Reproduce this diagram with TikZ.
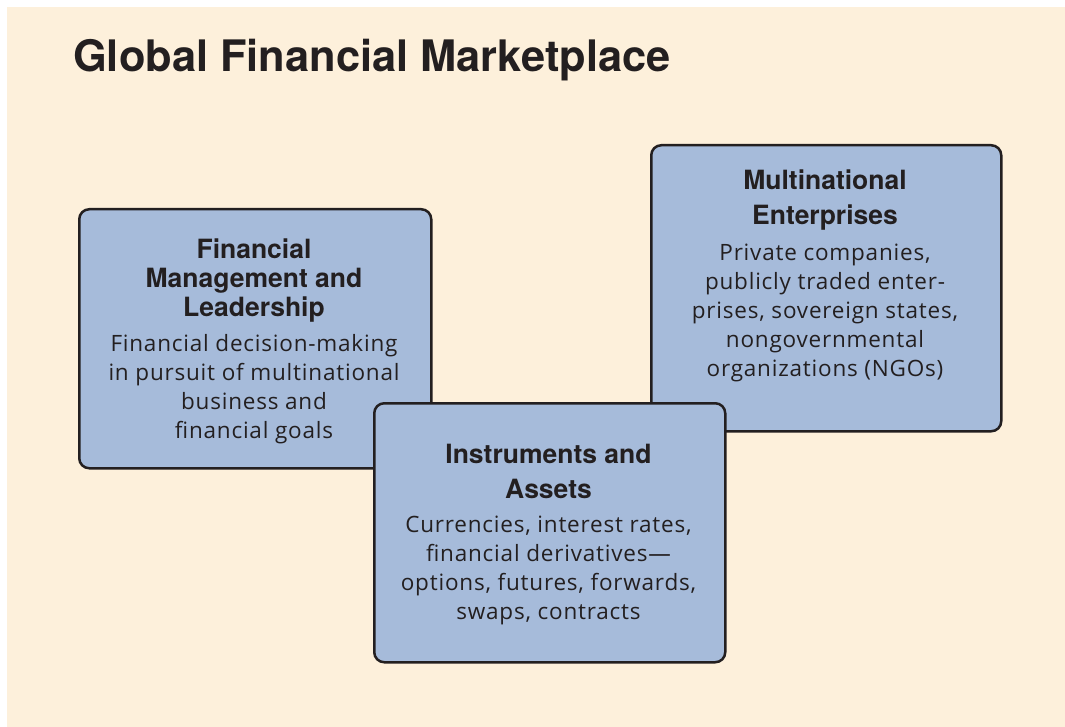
\documentclass[tikz,border=0pt]{standalone}
\usepackage{fontspec}
\setmainfont{TeX Gyre Heros}
\newfontfamily\bodyfont[LetterSpace=3.5]{Open Sans}
\definecolor{cream}{RGB}{253,240,219}
\definecolor{panelblue}{RGB}{166,187,218}
\definecolor{ink}{RGB}{35,31,32}
\tikzset{
  panel/.style={draw=ink, fill=panelblue, line width=2.5pt, rounded corners=10pt,
    anchor=north west, inner sep=0pt},
  headtext/.style={text=ink, align=center, inner sep=0pt,
    font=\fontsize{26.5}{29}\selectfont\bfseries},
  headwide/.style={headtext, font=\fontsize{26.5}{34.5}\selectfont\bfseries},
  bodytext/.style={text=ink, align=center, inner sep=0pt,
    font=\bodyfont\fontsize{22.5}{29}\selectfont},
}
\begin{document}
\begin{tikzpicture}[x=1pt,y=-1pt]
\useasboundingbox (0,0) rectangle (1065,727);
\fill[white] (0,0) rectangle (1065,727);
\fill[cream] (7,7) rectangle (1065,727);

% title
\node[anchor=base west, inner sep=0pt, text=ink, font=\fontsize{43.4}{48}\selectfont\bfseries]
  (title) at (73,72) {Global Financial Marketplace};

% left panel
\node[panel, minimum width=352pt, minimum height=259pt] (mgmt) at (78,208) {};
\node[headtext] (mgmthead) at (254,281) {Financial\\Management and\\Leadership};
\node[bodytext] (mgmtbody) at (254,389.5) {Financial decision-making\\in pursuit of multinational\\business and\\financial goals};

% right panel
\node[panel, minimum width=350pt, minimum height=286pt] (mne) at (650,144) {};
\node[headwide] (mnehead) at (825,200) {Multinational\\Enterprises};
\node[bodytext] (mnebody) at (825,313) {Private companies,\\publicly traded enter-\\prises, sovereign states,\\nongovernmental\\organizations (NGOs)};

% front panel
\node[panel, minimum width=351pt, minimum height=259pt] (instr) at (373,402) {};
\node[headwide] (instrhead) at (548.5,471.5) {Instruments and\\Assets};
\node[bodytext] (instrbody) at (548.5,570) {Currencies, interest rates,\\financial derivatives—\\options, futures, forwards,\\swaps, contracts};
\end{tikzpicture}
\end{document}
